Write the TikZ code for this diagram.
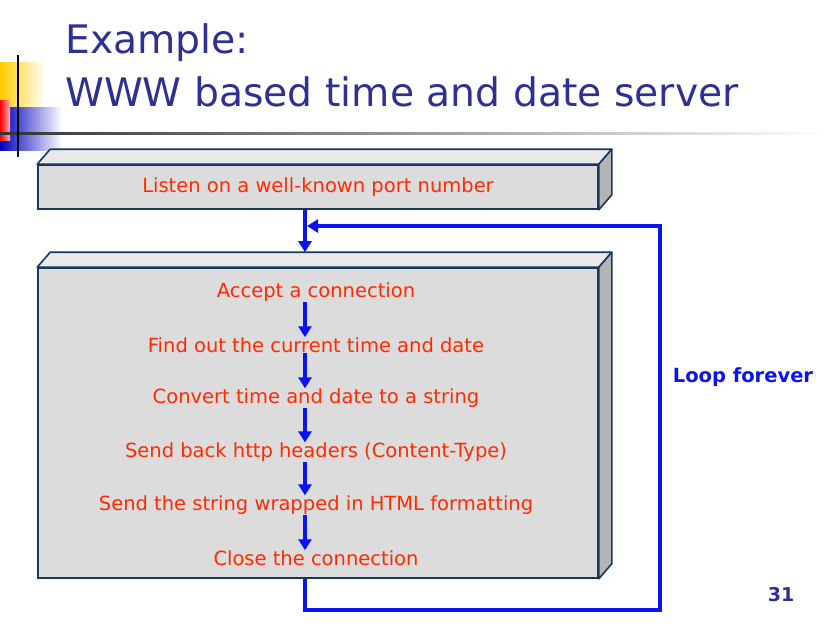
\documentclass[tikz,border=0pt]{standalone}
\usepackage{fontspec}
\setmainfont{DejaVu Sans}
\usetikzlibrary{arrows.meta,positioning,calc}

\definecolor{titleblue}{HTML}{2E3192}
\definecolor{boxline}{HTML}{17375E}
\definecolor{boxgray}{HTML}{DCDCDC}
\definecolor{topgray}{HTML}{E9E9E9}
\definecolor{sidegray}{HTML}{B4B4B4}
\definecolor{textred}{HTML}{FF2A00}
\definecolor{flowblue}{HTML}{0A14F0}

\tikzset{
  front/.style={draw=boxline, line width=1.6pt, fill=boxgray, inner sep=0pt},
  topface/.style={draw=boxline, line width=1.6pt, fill=topgray, line join=round},
  sideface/.style={draw=boxline, line width=1.6pt, fill=sidegray, line join=round},
  stagetext/.style={text=textred, font=\fontsize{19.5}{22}\selectfont, inner sep=0pt},
  flow/.style={draw=flowblue, line width=3.5pt, -{Triangle[width=13pt,length=11pt]}}
}

\begin{document}
\begin{tikzpicture}[x=1pt,y=-1pt]
\useasboundingbox (0,0) rectangle (828,627);

% Slide decoration
\shade[left color=orange!40!yellow, right color=white] (0,62) rectangle (45,106);
\shade[left color=blue!75!black, right color=white] (0,107) rectangle (62,150);
\shade[left color=red, right color=red!30] (0,100) rectangle (10,140);
\shade[left color=black!80, right color=white] (0,132) rectangle (828,134);
\draw[line width=1.5pt] (18,55) -- (18,157);

% Title
\node[anchor=base west, text=titleblue, font=\fontsize{39.3}{46}\selectfont, inner sep=0pt] (title1) at (65,53) {Example:};
\node[anchor=base west, text=titleblue, font=\fontsize{39.3}{46}\selectfont, inner sep=0pt] (title2) at (65,106) {WWW based time and date server};

% Listening box
\node[front, minimum width=560pt, minimum height=44pt] (listenbox) at (318,187) {};
\draw[topface] (listenbox.north west) -- ++(13,-15) -- ($(listenbox.north east)+(13,-15)$) -- (listenbox.north east) -- cycle;
\draw[sideface] (listenbox.north east) -- ++(13,-15) -- ($(listenbox.south east)+(13,-15)$) -- (listenbox.south east) -- cycle;
\node[stagetext] (listen) at (listenbox) {Listen on a well-known port number};

% Main box
\node[front, minimum width=560pt, minimum height=310pt] (mainbox) at (318,423) {};
\draw[topface] (mainbox.north west) -- ++(13,-15) -- ($(mainbox.north east)+(13,-15)$) -- (mainbox.north east) -- cycle;
\draw[sideface] (mainbox.north east) -- ++(13,-15) -- ($(mainbox.south east)+(13,-15)$) -- (mainbox.south east) -- cycle;

\coordinate (spine) at (305,0);

% Stages
\node[stagetext] (accept) at (316,292) {Accept a connection};
\node[stagetext] (find) at (316,345) {Find out the current time and date};
\node[stagetext] (convert) at (316,398) {Convert time and date to a string};
\node[stagetext] (headers) at (316,452) {Send back http headers (Content-Type)};
\node[stagetext] (wrap) at (316,505) {Send the string wrapped in HTML formatting};
\node[stagetext] (close) at (316,558) {Close the connection};

\foreach \a/\b in {accept/find, find/convert, convert/headers, headers/wrap, wrap/close}
  \draw[flow] (\a.south -| spine) -- (\b.north -| spine);

% Entry and loop
\draw[flow] (listenbox.south -| spine) -- ($(mainbox.north -| spine)+(0,-15)$);
\coordinate (joinpt) at (307,226);
\coordinate (loopcorner) at (660,610);
\draw[flow] (mainbox.south -| spine) |- (loopcorner) |- (joinpt);

\node[text=flowblue, font=\bfseries\fontsize{19.5}{22}\selectfont] (looplabel) at (743,377) {Loop forever};
\node[text=titleblue, font=\bfseries\fontsize{19}{22}\selectfont] (pagenum) at (781,595) {31};
\end{tikzpicture}
\end{document}
